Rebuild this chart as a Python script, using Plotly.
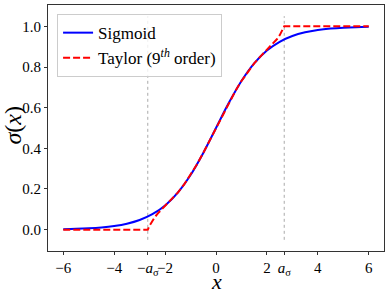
import plotly.graph_objects as go

# Sigmoid curve values
sig_x = [-6, -5.5, -5, -4.5, -4, -3.5, -3, -2.5, -2, -1.5, -1, -0.5, 0,
         0.5, 1, 1.5, 2, 2.5, 3, 3.5, 4, 4.5, 5, 5.5, 6]
sig_y = [0.0025, 0.0041, 0.0067, 0.0110, 0.0180, 0.0293, 0.0474, 0.0759, 0.1192,
         0.1824, 0.2689, 0.3775, 0.5, 0.6225, 0.7311, 0.8176, 0.8808, 0.9241,
         0.9526, 0.9707, 0.9820, 0.9890, 0.9933, 0.9959, 0.9975]

# Clipped 9th-order Taylor approximation
tay_x = [-6, -2.68, -2.6, -2.5, -2.4, -2.25, -2, -1.75, -1.5, -1.25, -1, -0.75, -0.5,
         -0.25, 0, 0.25, 0.5, 0.75, 1, 1.25, 1.5, 1.75, 2, 2.25, 2.4, 2.5, 2.6, 2.68, 6]
tay_y = [0.0, 0.0, 0.0220, 0.0442, 0.0624, 0.0846, 0.1161, 0.1474, 0.1823, 0.2227,
         0.2689, 0.3208, 0.3775, 0.4378, 0.5, 0.5622, 0.6225, 0.6792, 0.7311, 0.7773,
         0.8177, 0.8526, 0.8839, 0.9154, 0.9376, 0.9558, 0.9780, 1.0, 1.0]

a_sigma = 2.68
vline_y = [-0.05, 1.05]

x_tickvals = [-6, -4, -a_sigma, -2, 0, 2, a_sigma, 4, 6]
x_ticktext = ["−6", "−4", "−<i>a</i><sub>σ</sub>", "−2", "0", "2",
              "<i>a</i><sub>σ</sub>", "4", "6"]
y_tickvals = [0.0, 0.2, 0.4, 0.6, 0.8, 1.0]

FONT = "Liberation Serif, Times New Roman, serif"

fig = go.Figure()
for xv in [-a_sigma, a_sigma]:
    fig.add_trace(go.Scatter(x=[xv, xv], y=vline_y, mode="lines",
                             line=dict(color="#aaaaaa", width=1, dash="dot"),
                             showlegend=False, hoverinfo="skip"))
fig.add_trace(go.Scatter(x=sig_x, y=sig_y, mode="lines", name="Sigmoid",
                         line=dict(color="blue", width=2, shape="spline")))
fig.add_trace(go.Scatter(x=tay_x, y=tay_y, mode="lines",
                         name="Taylor (9<sup><i>th</i></sup> order)",
                         line=dict(color="red", width=2, dash="7px,3px")))

axis_common = dict(showgrid=False, zeroline=False, showline=True, linecolor="#333333",
                   linewidth=1, mirror=True, ticks="outside", ticklen=3,
                   tickcolor="#333333", automargin=False, tickangle=0,
                   tickfont=dict(family=FONT, size=15, color="black"))

fig.update_layout(
    width=390, height=293,
    margin=dict(l=48, r=6, t=5, b=42),
    paper_bgcolor="white", plot_bgcolor="white",
    font=dict(family=FONT, color="black"),
    xaxis=dict(range=[-6.6, 6.6], tickvals=x_tickvals, ticktext=x_ticktext,
               **axis_common),
    yaxis=dict(range=[-0.105, 1.105], tickvals=y_tickvals, tickformat=".1f",
               **axis_common),
    legend=dict(x=0.027, y=0.963, xanchor="left", yanchor="top",
                bgcolor="rgba(255,255,255,0.8)", bordercolor="#cccccc", borderwidth=1,
                font=dict(family=FONT, size=17), tracegroupgap=0),
    showlegend=True,
    annotations=[
        dict(text="<i>x</i>", xref="paper", yref="paper", x=0.5, y=-0.122,
             xanchor="center", yanchor="middle", showarrow=False,
             font=dict(family=FONT, size=22)),
        dict(text="<i>σ</i>(<i>x</i>)", xref="paper", yref="paper", x=-0.107, y=0.51,
             xanchor="center", yanchor="middle", showarrow=False, textangle=-90,
             font=dict(family=FONT, size=24)),
    ],
)

fig.write_html("out.html", config={"displayModeBar": False},
               post_script="document.body.style.margin='0';")
